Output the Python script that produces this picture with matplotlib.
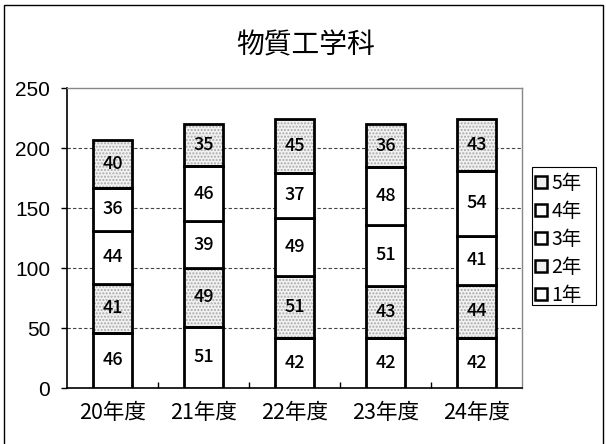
import matplotlib
matplotlib.use("Agg")
import matplotlib.pyplot as plt
from matplotlib.patches import Patch, Rectangle
import numpy as np

plt.rcParams['font.family'] = ['Noto Sans CJK JP', 'DejaVu Sans']

categories = ['20年度', '21年度', '22年度', '23年度', '24年度']
series_names = ['1年', '2年', '3年', '4年', '5年']
y1 = [46, 51, 42, 42, 42]
y2 = [41, 49, 51, 43, 44]
y3 = [44, 39, 49, 51, 41]
y4 = [36, 46, 37, 48, 54]
y5 = [40, 35, 45, 36, 43]
series = [y1, y2, y3, y4, y5]
shaded = [False, True, False, False, True]
yticks = [0, 50, 100, 150, 200, 250]

W, H = 606, 444
fig = plt.figure(figsize=(W / 100, H / 100), dpi=100)
ax = fig.add_axes([67 / W, 1 - 388 / H, (522 - 67) / W, (388 - 88) / H])

x = np.arange(len(categories))
bottom = np.zeros(len(categories))
handles = []
for vals, name, sh in zip(series, series_names, shaded):
    vals = np.array(vals, dtype=float)
    fc = '#efefef' if sh else 'white'
    if sh:
        ax.bar(x, vals, 0.42, bottom=bottom, color='#f2f2f2', edgecolor='#a8a8a8',
               hatch='.....', linewidth=0, zorder=2)
        ax.bar(x, vals, 0.42, bottom=bottom, facecolor='none', edgecolor='black',
               linewidth=2.0, zorder=3)
    else:
        ax.bar(x, vals, 0.42, bottom=bottom, facecolor='white', edgecolor='black',
               linewidth=2.0, zorder=3)
    for xi, b, v in zip(x, bottom, vals):
        ax.text(xi, b + v / 2, f'{int(v)}', ha='center', va='center',
                fontsize=13, color='black', zorder=5, fontweight='medium',
                family=['Noto Sans CJK JP', 'DejaVu Sans'])
    bottom += vals
    handles.append(Patch(facecolor=fc, edgecolor='black', linewidth=1.8, label=name))

ax.set_xlim(-0.5, len(categories) - 0.5)
ax.set_ylim(0, 250)
ax.set_yticks(yticks)
ax.set_yticklabels([str(t) for t in yticks], fontsize=15,
                   family=['Liberation Sans', 'DejaVu Sans'])
ax.set_xticks(x)
ax.set_xticklabels(categories, fontsize=15.5)
ax.tick_params(axis='x', length=0, pad=10)
ax.set_xticks(np.arange(0.5, len(categories) - 0.5, 1), minor=True)
ax.tick_params(axis='x', which='minor', direction='in', length=4, width=1, color='black')
ax.tick_params(axis='y', direction='out', length=4, width=1, pad=8)

for t in yticks[1:-1]:
    ax.axhline(t, color='#444444', linestyle=(0, (3, 2)), linewidth=0.8, zorder=1)

ax.spines['left'].set_color('black')
ax.spines['left'].set_linewidth(1.2)
ax.spines['bottom'].set_color('black')
ax.spines['bottom'].set_linewidth(1.2)
ax.spines['top'].set_color('#888888')
ax.spines['top'].set_linewidth(1.0)
ax.spines['top'].set_linestyle((0, (2, 1)))
ax.spines['right'].set_color('#888888')
ax.spines['right'].set_linewidth(1.0)
ax.spines['right'].set_linestyle((0, (2, 1)))

fig.text(306 / W, 1 - 45 / H, '物質工学科', ha='center', va='center', fontsize=20)

leg = fig.legend(handles=handles[::-1], loc='upper left',
                 bbox_to_anchor=(535 / W, 1 - 173 / H),
                 frameon=False, fontsize=14,
                 handlelength=0.6, handleheight=0.6, handletextpad=0.25,
                 labelspacing=0.36, borderpad=0.0, borderaxespad=0)
# legend frame drawn separately (wider than the entries, as in the original)
fig.patches.append(Rectangle((532 / W, 1 - 305 / H), (596 - 532) / W, (305 - 167) / H,
                             transform=fig.transFigure, fill=False,
                             edgecolor='black', linewidth=0.8))

fig.patches.append(Rectangle((4 / W, -0.05), (603 - 4) / W, 1 - 5 / H + 0.05,
                             transform=fig.transFigure, fill=False,
                             edgecolor='black', linewidth=1.0))

fig.savefig('out.png', dpi=100)
